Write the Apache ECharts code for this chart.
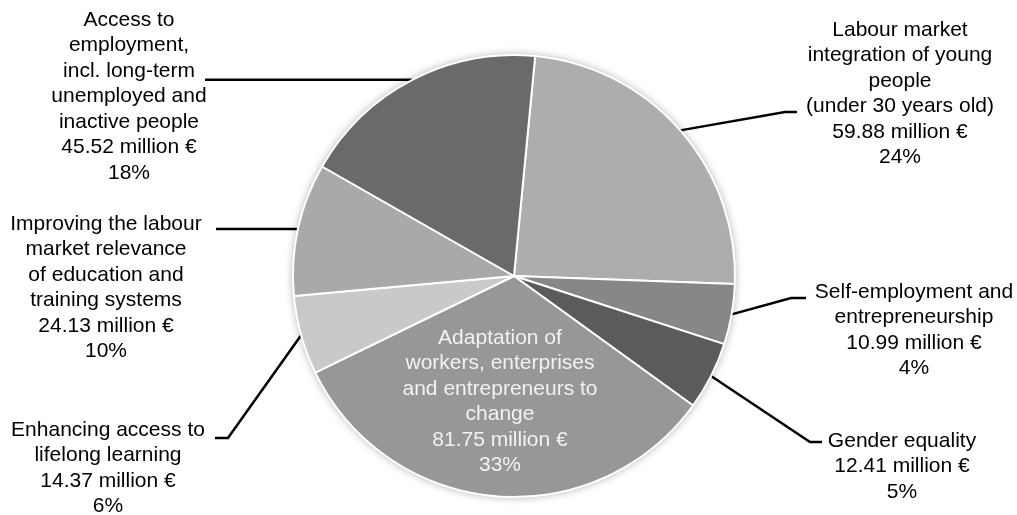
<!DOCTYPE html>
<html>
<head>
<meta charset="utf-8">
<script src="https://cdn.jsdelivr.net/npm/echarts@6/dist/echarts.min.js"></script>
<style>
html,body{margin:0;padding:0;background:#fff;}
#chart{width:1017px;height:515px;}
</style>
</head>
<body>
<div id="chart"></div>
<script>
// ---- data ----
const categories = [
  'Labour market\nintegration of young\npeople\n(under 30 years old)',
  'Self-employment and\nentrepreneurship',
  'Gender equality',
  'Adaptation of\nworkers, enterprises\nand entrepreneurs to\nchange',
  'Enhancing access to\nlifelong learning',
  'Improving the labour\nmarket relevance\nof education and\ntraining systems',
  'Access to\nemployment,\nincl. long-term\nunemployed and\ninactive people'
];
const valuesMillion = [59.88, 10.99, 12.41, 81.75, 14.37, 24.13, 45.52];
const unitLabel = 'million €';

// ---- styles / layout (not data) ----
const sliceColors = ['#adadad', '#878787', '#5b5b5b', '#979797', '#c9c9c9', '#a9a9a9', '#6a6a6a'];
const FONT = 21, LH = 25.5;
// label anchor: text centre x, first-line centre y, leader elbow & end
const labelPlace = [
  {x: 900, y: 30,  elbow: [785, 112], end: [797, 112]},
  {x: 914, y: 292, elbow: [791, 298], end: [806, 298]},
  {x: 902, y: 441, elbow: [810, 442], end: [822, 442]},
  {x: 500, y: 338, inside: true},
  {x: 108, y: 430, elbow: [228, 438], end: [215, 438]},
  {x: 106, y: 224, elbow: [256, null], end: [216, null]},
  {x: 129, y: 20,  elbow: [300, null], end: [205, null]}
];
const center = [514, 276], radius = 221;

const data = categories.map((c, i) => ({
  name: c,
  value: valuesMillion[i],
  itemStyle: {color: sliceColors[i]},
  label: labelPlace[i].inside ? {color: '#f2f2f2'} : {},
  labelLine: {show: !labelPlace[i].inside}
}));

const chart = echarts.init(document.getElementById('chart'), null, {renderer: 'canvas'});
chart.setOption({
  backgroundColor: '#ffffff',
  animation: false,
  series: [
    {
      type: 'pie', silent: true, center: center, radius: radius,
      data: [{value: 1}],
      label: {show: false}, labelLine: {show: false},
      itemStyle: {color: '#ffffff', shadowBlur: 8, shadowColor: 'rgba(0,0,0,0.35)'}
    },
    {
      type: 'pie',
      center: center,
      radius: radius,
      startAngle: 84.5,
      clockwise: true,
      avoidLabelOverlap: false,
      data: data,
      itemStyle: {borderColor: '#ffffff', borderWidth: 2},
      label: {
        show: true,
        position: 'outside',
        fontFamily: 'Liberation Sans, Arial, sans-serif',
        fontSize: FONT,
        lineHeight: LH,
        color: '#000000',
        align: 'center',
        formatter: p => p.name + '\n' + p.value.toFixed(2) + ' ' + unitLabel + '\n' + Math.round(p.percent) + '%'
      },
      labelLine: {show: true, length: 20, length2: 20, lineStyle: {color: '#000000', width: 2.5}},
      labelLayout: function (params) {
        const i = params.dataIndex;
        const L = labelPlace[i];
        const out = {x: L.x, y: L.y - LH / 2, align: 'center', verticalAlign: 'top'};
        if (!L.inside && params.labelLinePoints) {
          const p0 = params.labelLinePoints[0];
          const ey = L.elbow[1] == null ? p0[1] : L.elbow[1];
          const ny = L.end[1] == null ? p0[1] : L.end[1];
          out.labelLinePoints = [p0, [L.elbow[0], ey], [L.end[0], ny]];
        }
        return out;
      }
    }
  ]
});
</script>
</body>
</html>
